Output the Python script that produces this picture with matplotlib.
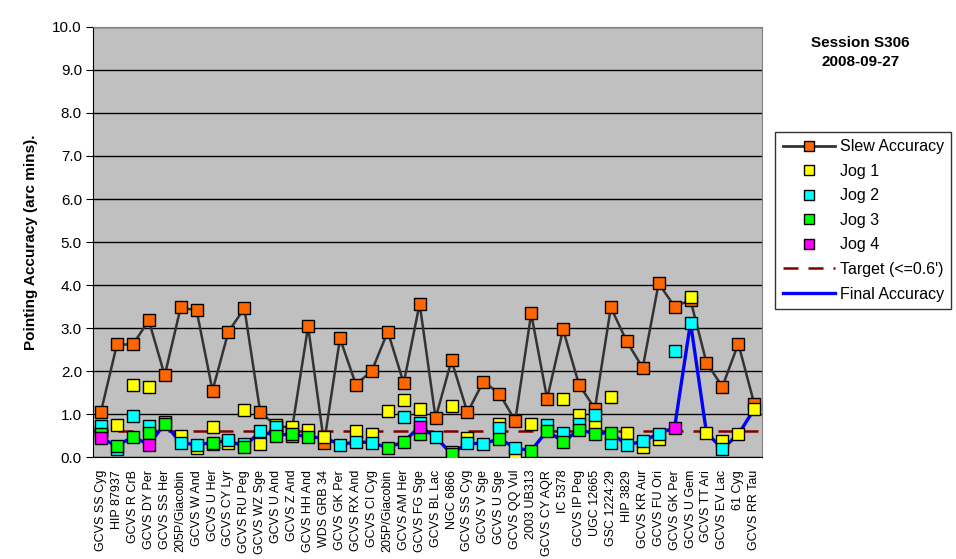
import numpy as np
import matplotlib
matplotlib.use("Agg")
import matplotlib.pyplot as plt
from matplotlib.lines import Line2D

plt.rcParams['font.family'] = ['Liberation Sans', 'DejaVu Sans']

nan = np.nan

targets = ["GCVS SS Cyg", "HIP 87937", "GCVS R CrB", "GCVS DY Per", "GCVS SS Her",
           "205P/Giacobin", "GCVS W And", "GCVS U Her", "GCVS CY Lyr", "GCVS RU Peg",
           "GCVS WZ Sge", "GCVS U And", "GCVS Z And", "GCVS HH And", "WDS GRB 34",
           "GCVS GK Per", "GCVS RX And", "GCVS CI Cyg", "205P/Giacobin", "GCVS AM Her",
           "GCVS FG Sge", "GCVS BL Lac", "NGC 6866", "GCVS SS Cyg", "GCVS V Sge",
           "GCVS U Sge", "GCVS QQ Vul", "2003 UB313", "GCVS CY AQR", "IC 5378",
           "GCVS IP Peg", "UGC 12665", "GSC 1224:29", "HIP 3829", "GCVS KR Aur",
           "GCVS FU Ori", "GCVS GK Per", "GCVS U Gem", "GCVS TT Ari", "GCVS EV Lac",
           "61 Cyg", "GCVS RR Tau"]

slew = [1.06, 2.62, 2.62, 3.18, 1.90, 3.48, 3.41, 1.55, 2.92, 3.46,
        1.04, 0.73, 0.68, 3.04, 0.33, 2.76, 1.69, 2.01, 2.92, 1.72,
        3.57, 0.91, 2.25, 1.04, 1.76, 1.48, 0.85, 3.34, 1.36, 2.97,
        1.69, 1.13, 3.48, 2.69, 2.08, 4.04, 3.50, 3.65, 2.20, 1.64,
        2.64, 1.24]

jog1 = [0.60, 0.76, 1.69, 1.64, nan, 0.49, 0.22, 0.71, 0.32, 1.09,
        0.31, 0.75, 0.70, 0.64, 0.46, nan, 0.62, 0.53, 1.08, 1.32,
        1.13, nan, 1.20, 0.45, nan, 0.78, 0.06, 0.78, nan, 1.36,
        0.99, 0.80, 1.41, 0.57, 0.25, 0.43, nan, 3.73, 0.57, 0.38,
        0.53, 1.12]

jog2 = [0.73, 0.20, 0.97, 0.72, 0.82, 0.34, 0.29, 0.31, 0.39, 0.30,
        0.60, 0.71, 0.50, nan, nan, 0.29, 0.36, 0.34, nan, 0.94,
        0.79, 0.47, 0.13, 0.33, 0.31, 0.69, 0.22, nan, 0.74, 0.57,
        0.78, 0.99, 0.34, 0.29, 0.37, 0.55, 2.48, 3.13, nan, 0.20,
        nan, nan]

jog3 = [0.55, 0.26, 0.48, 0.57, 0.78, nan, nan, 0.34, nan, 0.25,
        nan, 0.50, 0.55, 0.46, nan, nan, nan, nan, 0.22, 0.36,
        0.53, nan, 0.08, nan, nan, 0.43, nan, 0.15, 0.62, 0.36,
        0.64, 0.55, 0.57, nan, nan, nan, nan, nan, nan, nan,
        nan, nan]

jog4 = [0.45, nan, nan, 0.29, nan, nan, nan, nan, nan, nan,
        nan, nan, nan, nan, nan, nan, nan, nan, nan, nan,
        0.71, nan, nan, nan, nan, nan, nan, nan, nan, nan,
        nan, nan, nan, nan, nan, nan, 0.69, nan, nan, nan,
        nan, nan]

target = 0.6

# final accuracy = result of the last jog made for each target
final = []
for vals in zip(jog1, jog2, jog3, jog4):
    last = nan
    for v in vals:
        if not np.isnan(v):
            last = v
    final.append(last)

x = np.arange(len(targets))

fig = plt.figure(figsize=(9.56, 5.59), dpi=100)
ax = fig.add_axes([0.0973, 0.182, 0.7, 0.770])
ax.set_facecolor('#c0c0c0')

ax.set_ylim(0, 10)
ax.set_xlim(-0.5, len(targets) - 0.5)
ax.set_yticks(np.arange(0, 11, 1))
ax.set_yticklabels([f"{v:.1f}" for v in range(11)], fontsize=11)
ax.yaxis.grid(True, color='black', linewidth=1.0)
ax.set_axisbelow(True)
ax.set_xticks(x)
ax.set_xticklabels(targets, rotation=90, fontsize=9)
ax.tick_params(axis='x', length=0, pad=9)
ax.tick_params(axis='y', length=5, direction='out', pad=3)
for side in ['top', 'right']:
    ax.spines[side].set_color('#808080')
ax.spines['left'].set_color('black')
ax.spines['bottom'].set_color('black')

ax.axhline(target, color='#800000', linestyle=(0, (6, 4)), linewidth=1.8, zorder=2)
ax.plot(x, final, color='#0000ff', linewidth=2.4, zorder=2)
ax.plot(x, slew, color='#333333', linewidth=1.8, marker='s', markersize=8,
        markerfacecolor='#ff6600', markeredgecolor='black', markeredgewidth=1, zorder=3)
for vals, col in [(jog1, '#ffff00'), (jog2, '#00ffff'), (jog3, '#00ff00'), (jog4, '#ff00ff')]:
    ax.plot(x, vals, linestyle='none', marker='s', markersize=8,
            markerfacecolor=col, markeredgecolor='black', markeredgewidth=1, zorder=4)

ax.set_ylabel("Pointing Accuracy (arc mins).", fontsize=11, fontweight='bold', labelpad=10)

fig.text(0.900, 0.906, "Session S306\n2008-09-27", ha='center', va='center',
         fontsize=11, fontweight='bold', linespacing=1.4)

handles = [
    Line2D([], [], color='#333333', linewidth=2, marker='s', markersize=7,
           markerfacecolor='#ff6600', markeredgecolor='black'),
    Line2D([], [], linestyle='none', marker='s', markersize=7,
           markerfacecolor='#ffff00', markeredgecolor='black'),
    Line2D([], [], linestyle='none', marker='s', markersize=7,
           markerfacecolor='#00ffff', markeredgecolor='black'),
    Line2D([], [], linestyle='none', marker='s', markersize=7,
           markerfacecolor='#00ff00', markeredgecolor='black'),
    Line2D([], [], linestyle='none', marker='s', markersize=7,
           markerfacecolor='#ff00ff', markeredgecolor='black'),
    Line2D([], [], color='#800000', linestyle=(0, (6, 4)), linewidth=1.8),
    Line2D([], [], color='#0000ff', linewidth=2.4),
]
labels = ["Slew Accuracy", "Jog 1", "Jog 2", "Jog 3", "Jog 4",
          "Target (<=0.6')", "Final Accuracy"]
leg = fig.legend(handles, labels, loc='upper left', bbox_to_anchor=(0.811, 0.764),
                 fontsize=11.5, frameon=True, fancybox=False, edgecolor='black',
                 handlelength=3.3, borderpad=0.45, labelspacing=0.6, handletextpad=0.3,
                 borderaxespad=0)
leg.get_frame().set_linewidth(1.0)

fig.savefig("out.png", dpi=100)
